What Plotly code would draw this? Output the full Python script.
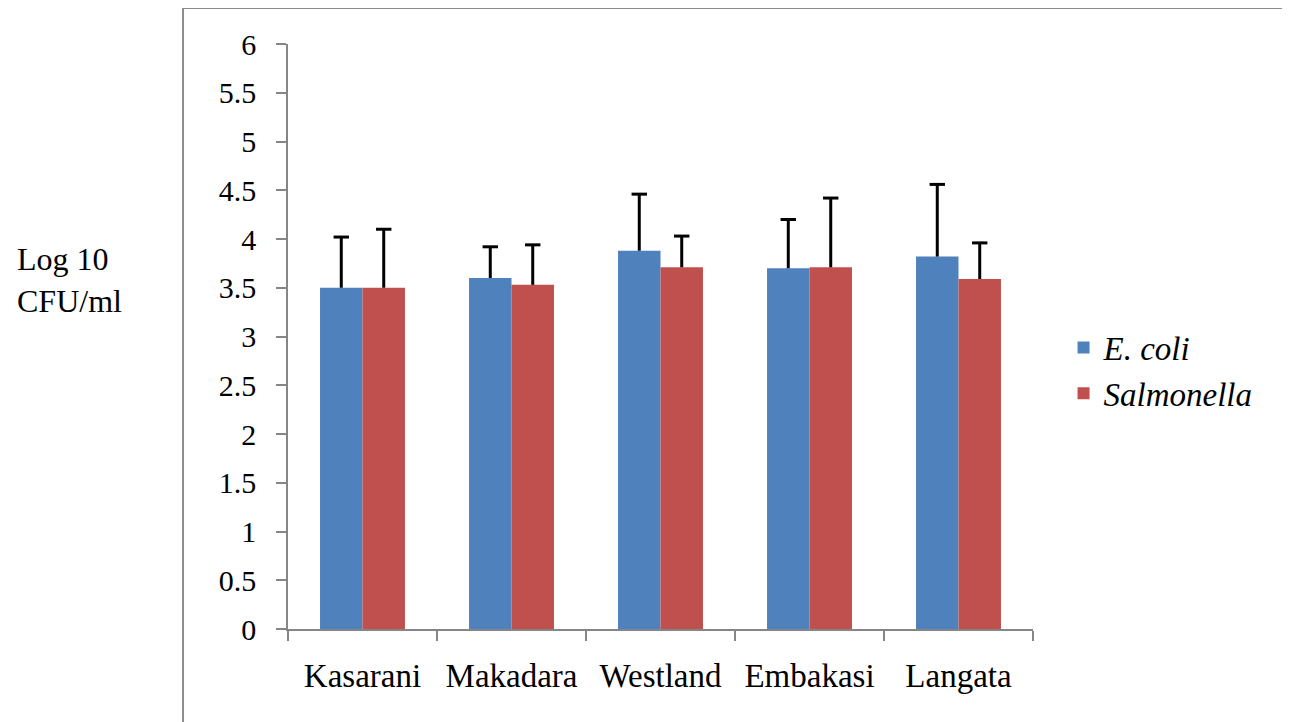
import plotly.graph_objects as go

categories = ["Kasarani", "Makadara", "Westland", "Embakasi", "Langata"]
ecoli = [3.50, 3.60, 3.88, 3.70, 3.82]
ecoli_err = [0.52, 0.32, 0.58, 0.50, 0.74]
salmonella = [3.50, 3.53, 3.71, 3.71, 3.59]
salmonella_err = [0.60, 0.41, 0.32, 0.71, 0.37]
y_ticks = [0, 0.5, 1, 1.5, 2, 2.5, 3, 3.5, 4, 4.5, 5, 5.5, 6]
y_ticktext = ["0", "0.5", "1", "1.5", "2", "2.5", "3", "3.5", "4", "4.5", "5", "5.5", "6"]

FONT = "Liberation Serif, Tinos, Times New Roman, DejaVu Serif, serif"
AXIS = "#868686"
BARGAP = 0.43
BAR_W = (1 - BARGAP) / 2

fig = go.Figure()
fig.add_trace(go.Bar(
    x=categories, y=ecoli, name="<i>E. coli</i>",
    marker=dict(color="#4F81BD", line=dict(width=0)),
    legendgroup="a",
))
fig.add_trace(go.Bar(
    x=categories, y=salmonella, name="<i>Salmonella</i>",
    marker=dict(color="#C0504D", line=dict(width=0)),
    legendgroup="b",
))


def err_traces(values, errs, shift):
    xs, ys = [], []
    cx, cy = [], []
    for i, (v, e) in enumerate(zip(values, errs)):
        p = i + shift
        xs += [p, p, None]
        ys += [v, v + e, None]
        cx.append(p)
        cy.append(v + e)
    line = go.Scatter(x=xs, y=ys, mode="lines", xaxis="x2",
                      line=dict(color="black", width=3),
                      showlegend=False, hoverinfo="skip")
    caps = go.Scatter(x=cx, y=cy, mode="markers", xaxis="x2",
                      marker=dict(symbol="line-ew", size=11,
                                  line=dict(color="black", width=3)),
                      showlegend=False, hoverinfo="skip")
    return [line, caps]


for tr in err_traces(ecoli, ecoli_err, -BAR_W / 2):
    fig.add_trace(tr)
for tr in err_traces(salmonella, salmonella_err, BAR_W / 2):
    fig.add_trace(tr)

fig.update_layout(
    width=1282, height=714,
    margin=dict(l=280, r=257, t=36, b=93),
    paper_bgcolor="white", plot_bgcolor="white",
    barmode="group", bargap=BARGAP, bargroupgap=0,
    font=dict(family=FONT, color="black", size=30),
    legend=dict(x=1.041, y=0.442, xanchor="left", yanchor="middle",
                font=dict(family=FONT, size=33, color="black"),
                tracegroupgap=0, bgcolor="rgba(0,0,0,0)"),
    xaxis=dict(showline=True, linecolor=AXIS, linewidth=1.5,
               ticks="outside", ticklen=10, tickcolor=AXIS, tickwidth=1.5,
               tickson="boundaries", showgrid=False,
               range=[-0.5, 4.5],
               tickfont=dict(family=FONT, size=33, color="black"),
               ticklabelstandoff=17),
    xaxis2=dict(overlaying="x", range=[-0.5, 4.5], visible=False,
                showgrid=False, zeroline=False),
    yaxis=dict(range=[0, 6], tickvals=y_ticks, ticktext=y_ticktext,
               showline=True, linecolor=AXIS, linewidth=1.5,
               ticks="outside", ticklen=10, tickcolor=AXIS, tickwidth=1.5,
               showgrid=False, zeroline=False,
               tickfont=dict(family=FONT, size=30, color="black"),
               ticklabelstandoff=14),
    shapes=[dict(type="rect", xref="paper", yref="paper",
                 x0=-0.1409, x1=1.36, y0=-0.2, y1=1.0615,
                 line=dict(color="#8C8C8C", width=2), fillcolor="rgba(0,0,0,0)",
                 layer="below")],
    annotations=[dict(text="Log 10<br>CFU/ml", xref="paper", yref="paper",
                      x=-0.366, y=0.597, xanchor="left", yanchor="middle",
                      showarrow=False, align="left",
                      font=dict(family=FONT, size=32, color="black"))],
)

fig.write_html("out.html")
